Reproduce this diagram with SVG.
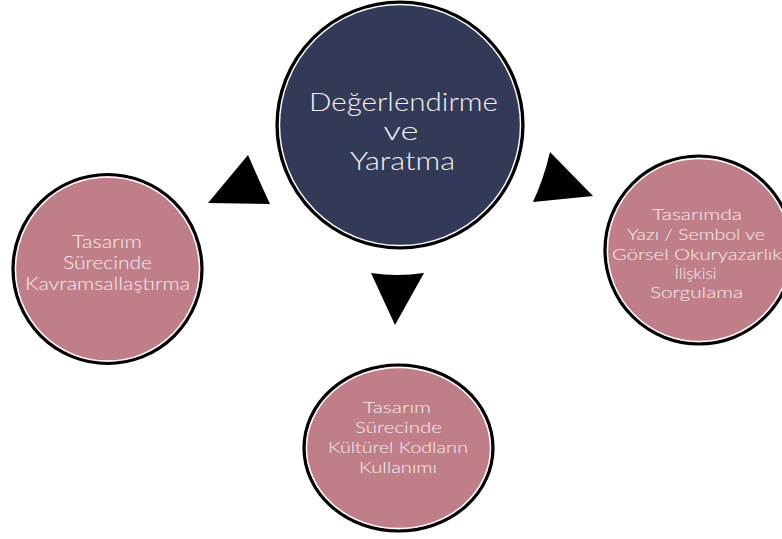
<svg xmlns="http://www.w3.org/2000/svg" width="782" height="539" viewBox="0 0 782 539">
<style>
.ring{stroke:#000;stroke-width:3.2}
.inner{fill:none;stroke:#fff;stroke-width:1.4}
.pink{fill:#C07F88}
.navy{fill:#323A57}
.t{font-family:"Lato","Noto Sans","DejaVu Sans",sans-serif;text-anchor:middle;fill:#F6EEF0;font-weight:300}
.ts{font-size:17px}
.tr{font-size:16px}
.tb{font-size:16.5px}
.tl{font-size:26px;fill:#F2F2F6}
.arrow{fill:#000}
</style>
<rect width="782" height="539" fill="#fff"/>
<g id="connectors">
<path class="arrow" d="M248,155 Q258,178 270,204 L208,203 Z"/>
<path class="arrow" d="M550,152 L593,196 L533,202 Q544,178 550,152 Z"/>
<path class="arrow" d="M371,273 Q397,277 424,273 L395,325 Z"/>
</g>
<g id="center">
<circle class="ring navy" cx="400" cy="125" r="123"/>
<circle class="inner" cx="400" cy="125" r="120.5"/>
<text class="t tl" x="403.5" y="111" textLength="189" lengthAdjust="spacingAndGlyphs">Değerlendirme</text>
<text class="t tl" x="401" y="140" textLength="35" lengthAdjust="spacingAndGlyphs">ve</text>
<text class="t tl" x="402.5" y="170" textLength="105" lengthAdjust="spacingAndGlyphs">Yaratma</text>
</g>
<g id="left">
<circle class="ring pink" cx="107.5" cy="269" r="94.5"/>
<circle class="inner" cx="107.5" cy="269" r="92"/>
<text class="t ts" x="107" y="248" textLength="70" lengthAdjust="spacingAndGlyphs">Tasarım</text>
<text class="t ts" x="107.5" y="269" textLength="89" lengthAdjust="spacingAndGlyphs">Sürecinde</text>
<text class="t ts" x="107.5" y="290" textLength="165" lengthAdjust="spacingAndGlyphs">Kavramsallaştırma</text>
</g>
<g id="right">
<circle class="ring pink" cx="699" cy="250" r="94"/>
<circle class="inner" cx="699" cy="250" r="91.5"/>
<text class="t tr" x="697" y="220" textLength="90" lengthAdjust="spacingAndGlyphs">Tasarımda</text>
<text class="t tr" x="696" y="240" textLength="138" lengthAdjust="spacingAndGlyphs">Yazı / Sembol ve</text>
<text class="t tr" x="697" y="260" textLength="170" lengthAdjust="spacingAndGlyphs">Görsel Okuryazarlık</text>
<text class="t tr" x="695.5" y="279" textLength="42" lengthAdjust="spacingAndGlyphs">İlişkisi</text>
<text class="t tr" x="696.5" y="298" textLength="93" lengthAdjust="spacingAndGlyphs">Sorgulama</text>
</g>
<g id="bottom">
<ellipse class="ring pink" cx="398.5" cy="448" rx="94.5" ry="83"/>
<ellipse class="inner" cx="398.5" cy="448" rx="92" ry="80.5"/>
<text class="t tb" x="397" y="413" textLength="68" lengthAdjust="spacingAndGlyphs">Tasarım</text>
<text class="t tb" x="398.5" y="433" textLength="87" lengthAdjust="spacingAndGlyphs">Sürecinde</text>
<text class="t tb" x="398" y="453" textLength="140" lengthAdjust="spacingAndGlyphs">Kültürel Kodların</text>
<text class="t tb" x="398" y="473" textLength="78" lengthAdjust="spacingAndGlyphs">Kullanımı</text>
</g>
</svg>
